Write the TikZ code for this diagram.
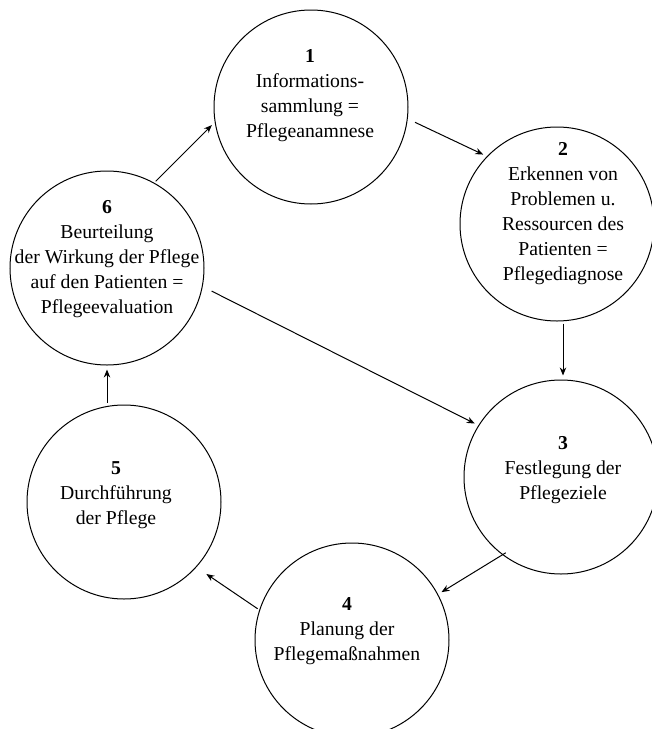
\documentclass[tikz,border=0pt]{standalone}
\usepackage{fontspec}
\setmainfont{Liberation Serif}
\usetikzlibrary{arrows.meta}

\begin{document}
\begin{tikzpicture}[->, >={Stealth[length=4pt,width=3.2pt]}, shorten >=2pt, shorten <=1pt, x=0.5pt, y=-0.5pt, line width=0.5pt]

%====Definizione stile fasi================================================

	\tikzstyle{fase}=[circle, draw, minimum size=97pt, inner sep=0pt]
	\tikzstyle{testo}=[align=center, inner sep=0pt, font=\fontsize{9.85}{12.5}\selectfont]

	\useasboundingbox (0,0) rectangle (652,729);
	\clip (0,0) rectangle (652,729);

%====Definizione fasi e posizione===========================================
	\node[fase] (F1) at (311,107) {};
	\node[fase] (F2) at (557,224) {};
	\node[fase] (F3) at (561,477) {};
	\node[fase] (F4) at (352,640) {};
	\node[fase] (F5) at (124,502) {};
	\node[fase] (F6) at (107,268) {};

	\node[testo] (T1) at (310,96)  {\textbf{1}\\Informations-\\sammlung =\\Pflegeanamnese};
	\node[testo] (T2) at (563,214) {\textbf{2}\\Erkennen von\\Problemen u.\\Ressourcen des\\Patienten =\\Pflegediagnose};
	\node[testo] (T3) at (563,470) {\textbf{3}\\Festlegung der\\Pflegeziele};
	\node[testo] (T4) at (347,631) {\textbf{4}\\Planung der\\Pflegemaßnahmen};
	\node[testo] (T5) at (116,495) {\textbf{5}\\Durchführung\\der Pflege};
	\node[testo] (T6) at (107,259) {\textbf{6}\\Beurteilung\\der Wirkung der Pflege\\auf den Patienten =\\Pflegeevaluation};

%====Definizione collegamenti================================================================
	%from                      stile                   to
	\path (F6.61)            edge                     (F1.-171)
	      (F1.-7)            edge [shorten <=4pt]     (F2.136)
	      (F2.south -| T2)   edge                     (F3.north -| T2)
	      (F6.-11)           edge [shorten <=5pt]     (F3.148)
	      (F3.-127)          edge [shorten <=-2pt]    (F4.28)
	      (F4.162)           edge [shorten >=6pt]     (F5.-42)
	      (F5.north -| F6)   edge                     (F6.south);
\end{tikzpicture}
\end{document}
